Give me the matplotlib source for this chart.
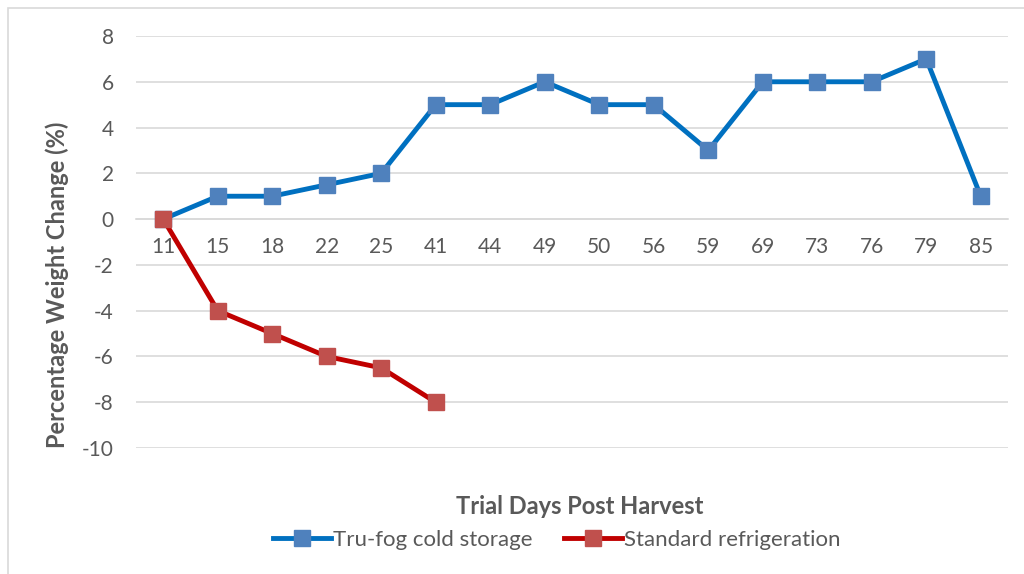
import matplotlib
matplotlib.use('Agg')
import matplotlib.pyplot as plt
from matplotlib.patches import Rectangle

# data
days = ['11', '15', '18', '22', '25', '41', '44', '49', '50', '56',
        '59', '69', '73', '76', '79', '85']
trufog = [0, 1, 1, 1.5, 2, 5, 5, 6, 5, 5, 3, 6, 6, 6, 7, 1]
standard = [0, -4, -5, -6, -6.5, -8]
yticks = [-10, -8, -6, -4, -2, 0, 2, 4, 6, 8]

text_grey = '#595959'
grid_grey = '#D9D9D9'

plt.rcParams['font.family'] = ['Lato', 'DejaVu Sans']

fig = plt.figure(figsize=(10.24, 5.74), dpi=100)
ax = fig.add_axes([136 / 1024, 1 - 448 / 574, 872 / 1024, 412 / 574])

x = list(range(len(days)))
ax.plot(x, trufog, color='#0070C0', lw=3.5, marker='s', ms=11,
        mfc='#4F81BD', mec='#4F81BD', label='Tru-fog cold storage', zorder=3)
ax.plot(x[:len(standard)], standard, color='#C00000', lw=3.5, marker='s', ms=11,
        mfc='#C0504D', mec='#C0504D', label='Standard refrigeration', zorder=4)

ax.set_xlim(-0.5, len(days) - 0.5)
ax.set_ylim(-10, 8)
ax.set_yticks(yticks)
ax.set_yticklabels([str(v) for v in yticks])
ax.set_xticks(x)
ax.set_xticklabels(days)
ax.grid(axis='y', color=grid_grey, lw=1.2)
ax.set_axisbelow(True)

for s in ['top', 'right', 'left']:
    ax.spines[s].set_visible(False)
ax.spines['bottom'].set_position(('data', 0))
ax.spines['bottom'].set_color(grid_grey)
ax.spines['bottom'].set_linewidth(1.2)
ax.tick_params(axis='both', length=0, labelsize=15, labelcolor=text_grey)
ax.tick_params(axis='x', pad=13)
ax.tick_params(axis='y', pad=16)

fig.text(57 / 1024, 1 - 285 / 574, 'Percentage Weight Change (%)', rotation=90,
         ha='center', va='center', fontsize=17, fontweight='bold', color=text_grey)
fig.text(580 / 1024, 1 - 506 / 574, 'Trial Days Post Harvest',
         ha='center', va='center', fontsize=17, fontweight='bold', color=text_grey)

fig.legend(loc='center', bbox_to_anchor=(557 / 1024, 1 - 540 / 574), ncol=2,
           frameon=False, fontsize=16, labelcolor=text_grey, handlelength=2.6,
           handletextpad=0.1, columnspacing=1.4)

# outer chart border (cropped at right and bottom)
fig.patches.append(Rectangle((8 / 1024, -0.1), 1.1, 1.1 - 8 / 574,
                             transform=fig.transFigure, fill=False,
                             ec=grid_grey, lw=1.2))

fig.savefig('out.png', dpi=100)
